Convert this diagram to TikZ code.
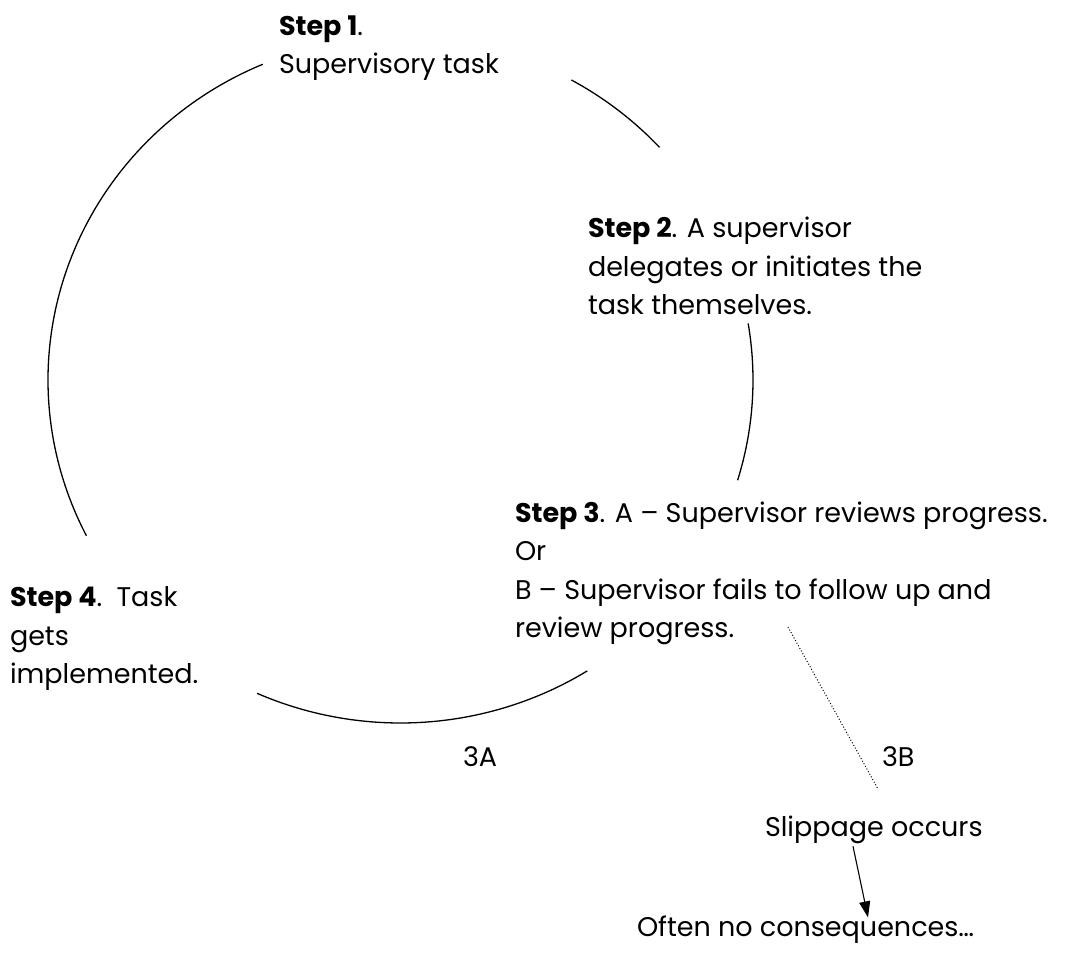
\documentclass[tikz,border=0pt]{standalone}
\usepackage{fontspec}
\setmainfont{Poppins}
\usetikzlibrary{arrows.meta}
\begin{document}
\begin{tikzpicture}[x=1pt,y=1pt,
  lbl/.style={inner sep=0pt, outer sep=0pt, align=left, anchor=base west,
    font=\fontsize{27}{38.5}\selectfont},
  ring/.style={line width=1.3pt, black},
  dotline/.style={line width=1pt, dotted, black},
  arr/.style={line width=1.1pt, -{Triangle[length=16pt,width=11pt]}}]
\useasboundingbox (0,0) rectangle (1090,956);
% y-up coordinates: Y = 956 - y ; anchor base = baseline of LAST line
\coordinate (c) at (400.5,576);
\draw[ring] (c) ++(113:352.5 and 343) arc[start angle=113, end angle=207, x radius=352.5, y radius=343];
\draw[ring] (c) ++(246:352.5 and 343) arc[start angle=246, end angle=302, x radius=352.5, y radius=343];
\draw[ring] (c) ++(-17:352.5 and 343) arc[start angle=-17, end angle=9.5, x radius=352.5, y radius=343];
\draw[ring] (c) ++(42.7:352.5 and 343) arc[start angle=42.7, end angle=61, x radius=352.5, y radius=343];

\node[lbl] (s1) at (279,882) {\textbf{Step 1}.\\Supervisory task};
\node[lbl] (s2) at (588,641) {\textbf{Step 2}. A supervisor\\delegates or initiates the\\task themselves.};
\node[lbl] (s3) at (515,318) {\textbf{Step 3}. A – Supervisor reviews progress.\\Or\\B – Supervisor fails to follow up and\\review progress.};
\node[lbl] (s4) at (10,272) {\textbf{Step 4}.\ \ Task\\gets\\implemented.};
\node[lbl] (a3) at (463,189) {3A};
\node[lbl] (b3) at (882,189) {3B};
\node[lbl] (slip) at (765,119) {Slippage occurs};
\node[lbl] (often) at (637,19) {Often no consequences…};

\coordinate (d1) at (788,329);
\coordinate (d2) at (878,167);
\draw[dotline] (d1) -- (d2);
\draw[arr] ([xshift=88pt,yshift=-2pt]slip.south west) -- ([xshift=231pt,yshift=-1pt]often.north west);
\end{tikzpicture}
\end{document}
